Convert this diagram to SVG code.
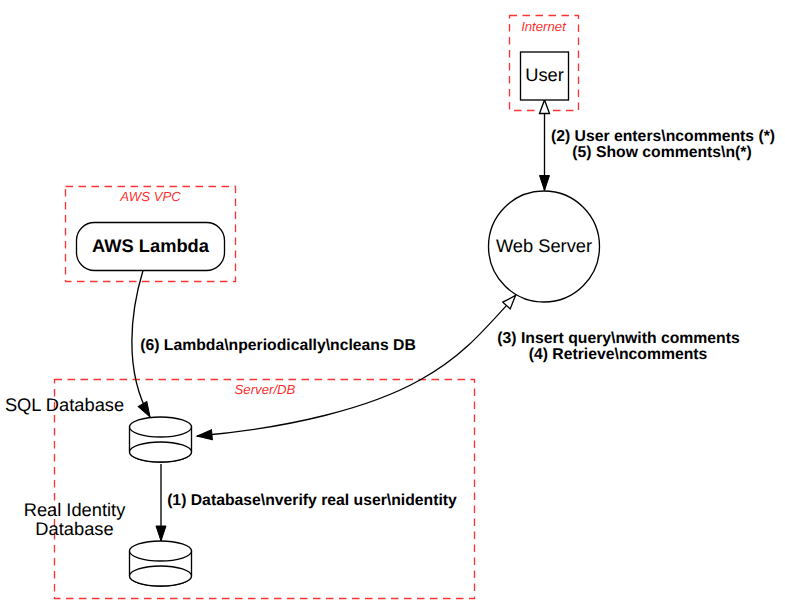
<svg xmlns="http://www.w3.org/2000/svg" width="785" height="615" viewBox="0 0 785 615">
<style>
text{font-family:"Liberation Sans",Arial,sans-serif;fill:#000;text-anchor:middle;text-rendering:geometricPrecision}
.c{fill:none;stroke:#ff0000;stroke-width:1.33;stroke-dasharray:7.5,5.5;stroke-opacity:.8}
.cl{font-size:13.2px;font-style:italic;fill:#ff0000;fill-opacity:.85}
.n{font-size:18.3px}
.e{font-size:15.75px;font-weight:bold}
.s{fill:#fff;stroke:#000;stroke-width:1.33}
.l{fill:none;stroke:#000;stroke-width:1.33}
</style>
<defs>
<marker id="f" markerUnits="userSpaceOnUse" markerWidth="20" markerHeight="14" refX="15" refY="5" orient="auto" overflow="visible"><path d="M0,0L15,5L0,10Z" fill="#000" stroke="#000"/></marker>
<marker id="o" markerUnits="userSpaceOnUse" markerWidth="20" markerHeight="14" refX="13.500" refY="5" orient="auto-start-reverse" overflow="visible"><path d="M0,0L13.500,5L0,10Z" fill="#fff" stroke="#000" stroke-width="1.33"/></marker>
</defs>
<rect width="785" height="615" fill="#fff"/>
<g id="cluster-internet"><rect class="c" x="509.500" y="15.500" width="69" height="95"/><text class="cl" x="543.500" y="31">Internet</text></g>
<g id="cluster-vpc"><rect class="c" x="65.500" y="186.500" width="170" height="95"/><text class="cl" x="150.500" y="201">AWS VPC</text></g>
<g id="cluster-db"><rect class="c" x="54.500" y="379.500" width="420" height="219"/><text class="cl" x="265" y="394">Server/DB</text></g>
<g id="connectors">
<path class="l" d="M544.500,100V190.500" marker-start="url(#o)" marker-end="url(#f)"/>
<path class="l" d="M143,270.500C131,310 123,370 150,417" marker-end="url(#f)"/>
<path class="l" d="M515.500,295.500C480,335 460,358 420,380C370,408 290,428 197,436" marker-start="url(#o)" marker-end="url(#f)"/>
<path class="l" d="M161,464V541" marker-end="url(#f)"/>
<text class="e" x="663" y="140.500">(2) User enters\ncomments (*)</text>
<text class="e" x="662" y="156.500">(5) Show comments\n(*)</text>
<text class="e" x="618.500" y="342.500">(3) Insert query\nwith comments</text>
<text class="e" x="618" y="358.500">(4) Retrieve\ncomments</text>
<text class="e" x="278" y="349.500">(6) Lambda\nperiodically\ncleans DB</text>
<text class="e" x="312" y="504.500">(1) Database\nverify real user\nidentity</text>
</g>
<g id="node-user"><rect class="s" x="520.500" y="52" width="48" height="48"/><text class="n" x="544.500" y="80.500">User</text></g>
<g id="node-webserver"><circle class="s" cx="544" cy="246.500" r="55.500"/><text class="n" x="544" y="252">Web Server</text></g>
<g id="node-lambda"><rect class="s" x="76.500" y="222.500" width="148" height="48" rx="18" ry="18"/><text class="n" x="150.500" y="251.500" font-weight="bold">AWS Lambda</text></g>
<g id="node-sql"><path class="s" d="M129.500,427V452A31,10 0 0 0 191.500,452V427Z"/><ellipse class="s" cx="160.500" cy="427" rx="31" ry="10"/><ellipse class="s" cx="160.500" cy="452" rx="31" ry="10"/><text class="n" x="64.500" y="410.500">SQL Database</text></g>
<g id="node-identity"><path class="s" d="M129.500,551V576A31,10 0 0 0 191.500,576V551Z"/><ellipse class="s" cx="160.500" cy="551" rx="31" ry="10"/><ellipse class="s" cx="160.500" cy="576" rx="31" ry="10"/><text class="n" x="74.500" y="515.500">Real Identity</text><text class="n" x="74.500" y="535">Database</text></g>
</svg>
